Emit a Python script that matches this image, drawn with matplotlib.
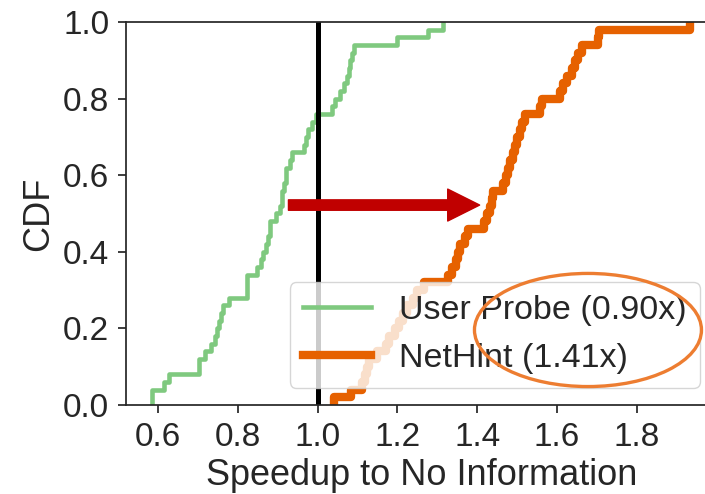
"""CDF of speedup to no information: User Probe vs NetHint."""

import matplotlib
matplotlib.use("Agg")
import matplotlib.pyplot as plt
import numpy as np
from matplotlib.patches import Ellipse, FancyArrowPatch

# per-run speedup samples (50 runs each)
user_probe = [
    0.586, 0.586, 0.616, 0.629, 0.702, 0.702, 0.719, 0.734, 0.742, 0.749,
    0.754, 0.759, 0.764, 0.779, 0.822, 0.822, 0.822, 0.847, 0.857, 0.862,
    0.870, 0.875, 0.880, 0.882, 0.895, 0.905, 0.910, 0.912, 0.915, 0.920,
    0.922, 0.930, 0.935, 0.967, 0.972, 0.975, 0.987, 0.997, 1.035, 1.043,
    1.055, 1.065, 1.073, 1.078, 1.080, 1.085, 1.090, 1.198, 1.276, 1.313,
]
nethint = [
    1.040, 1.083, 1.110, 1.118, 1.123, 1.130, 1.150, 1.171, 1.178, 1.193,
    1.203, 1.213, 1.223, 1.238, 1.248, 1.266, 1.326, 1.336, 1.346, 1.351,
    1.356, 1.369, 1.376, 1.416, 1.424, 1.431, 1.436, 1.439, 1.464, 1.471,
    1.476, 1.482, 1.489, 1.494, 1.499, 1.507, 1.512, 1.519, 1.557, 1.562,
    1.607, 1.614, 1.624, 1.637, 1.645, 1.652, 1.662, 1.702, 1.705, 1.933,
]
labels = ["User Probe (0.90x)", "NetHint (1.41x)"]
colors = ["#7fc97f", "#e66100"]
widths = [3.3, 6.0]

baseline = 1.0
arrow_from = 0.927
arrow_to = 1.406
arrow_y = 0.522

x_ticks = [0.6, 0.8, 1.0, 1.2, 1.4, 1.6, 1.8]
y_ticks = [0.0, 0.2, 0.4, 0.6, 0.8, 1.0]

TEXT = "#262626"
plt.rcParams["font.family"] = ["Liberation Sans", "DejaVu Sans"]
plt.rcParams["text.color"] = TEXT
plt.rcParams["axes.labelcolor"] = TEXT
plt.rcParams["xtick.color"] = TEXT
plt.rcParams["ytick.color"] = TEXT


def ecdf(samples):
    xs = np.sort(np.asarray(samples))
    ys = np.arange(1, len(xs) + 1) / len(xs)
    return np.r_[xs[0], xs], np.r_[0.0, ys]


fig = plt.figure(figsize=(7.05, 4.94), dpi=100)
ax = fig.add_axes([0.1787, 0.1802, 0.838, 0.7753])

for data, label, color, lw in zip([user_probe, nethint], labels, colors, widths):
    xs, ys = ecdf(data)
    ax.step(xs, ys, where="post", color=color, lw=lw, label=label)

ax.axvline(baseline, color="black", lw=3.6, zorder=2.5)

arrow = FancyArrowPatch(
    (arrow_from, arrow_y), (arrow_to, arrow_y),
    arrowstyle="simple,head_length=23,head_width=23,tail_width=7.5",
    mutation_scale=1, color="#c00000", shrinkA=0, shrinkB=0, zorder=4,
)
ax.add_patch(arrow)

ax.set_xlim(0.52, 2.0)
ax.set_ylim(0, 1)
ax.set_xticks(x_ticks)
ax.set_yticks(y_ticks)
ax.set_xticklabels([f"{t:.1f}" for t in x_ticks])
ax.set_yticklabels([f"{t:.1f}" for t in y_ticks])
ax.tick_params(labelsize=24, length=6, width=1.25, direction="out", pad=6)
ax.set_xlabel("Speedup to No Information", fontsize=26, labelpad=4)
ax.set_ylabel("CDF", fontsize=26, labelpad=5)
for side in ["left", "bottom", "top", "right"]:
    ax.spines[side].set_color(TEXT)
    ax.spines[side].set_linewidth(1.25)

ax.legend(loc="lower right", fontsize=24.5, frameon=True, fancybox=True,
          framealpha=0.8, edgecolor="0.8")

fig.add_artist(Ellipse((0.834, 0.332), 0.322, 0.229, transform=fig.transFigure,
                       fill=False, edgecolor="#ed7d31", lw=2.4))

fig.savefig("out.png", dpi=100)
plt.close(fig)
